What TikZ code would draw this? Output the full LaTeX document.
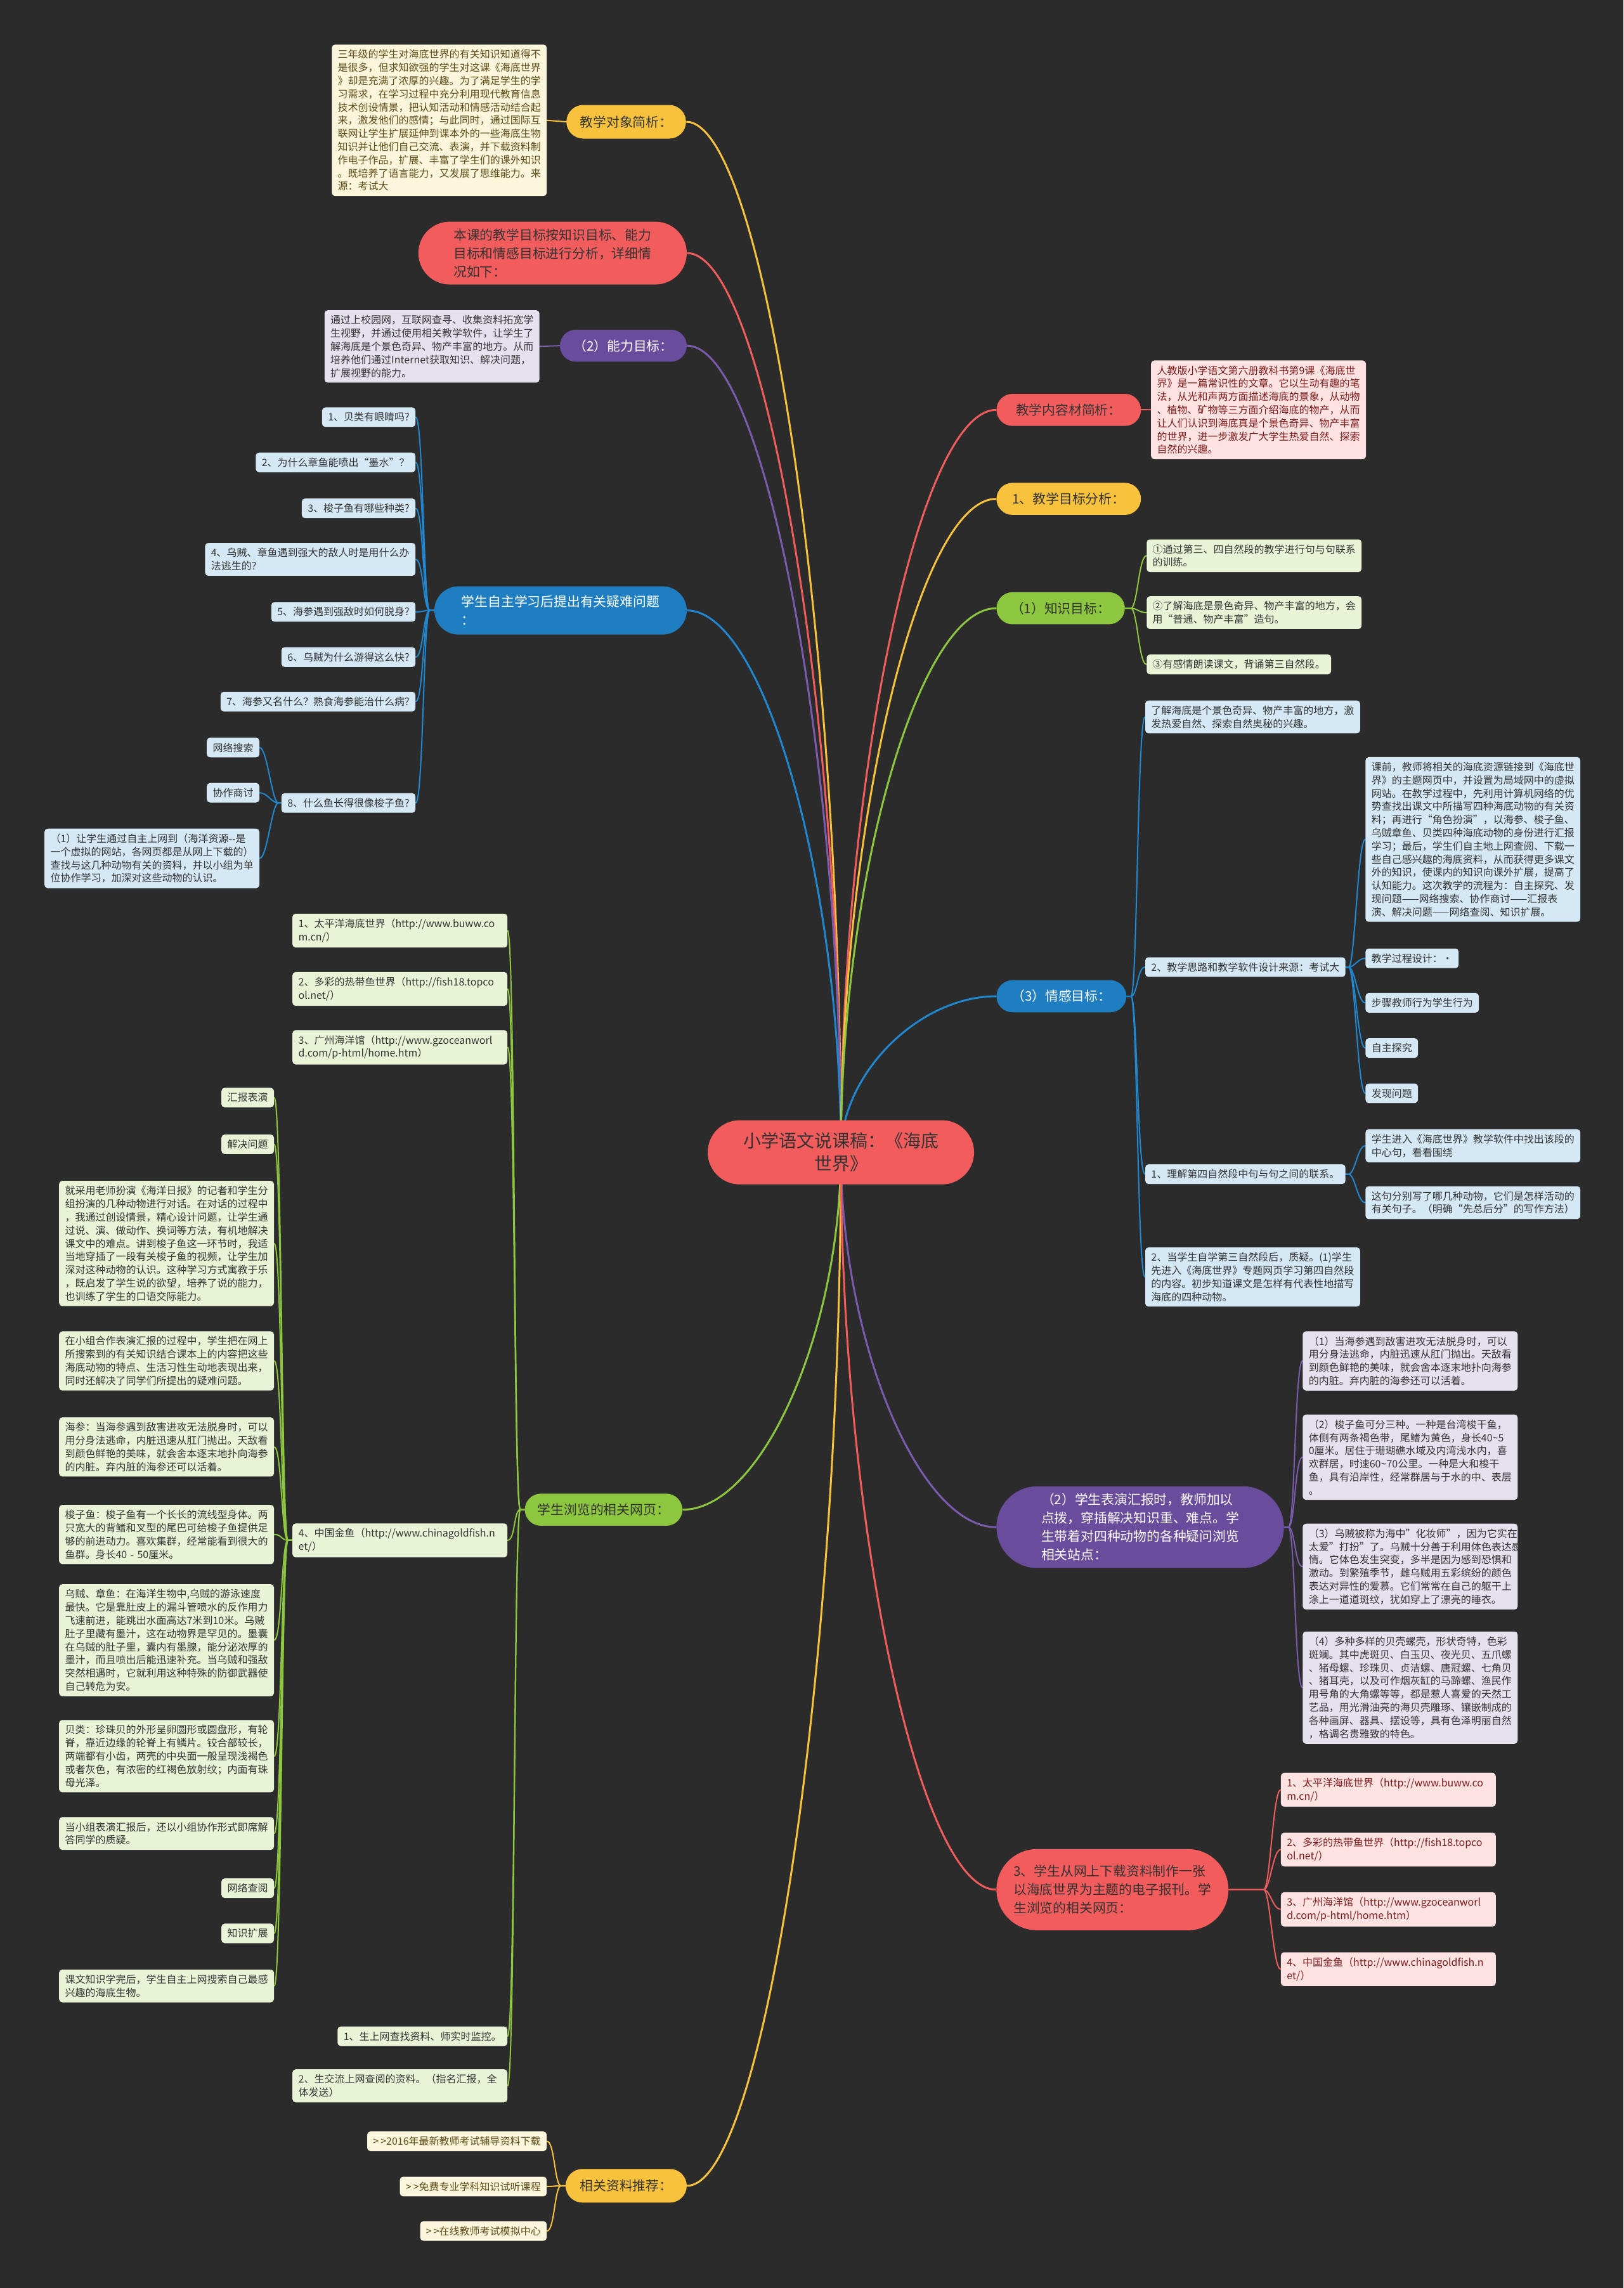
\documentclass[tikz,border=0pt]{standalone}
\usepackage{fontspec}
\setmainfont{Noto Sans CJK SC}
\usetikzlibrary{backgrounds,calc}
\definecolor{bgc}{HTML}{2B2B2B}
\definecolor{redc}{HTML}{F25C5C}
\definecolor{yelc}{HTML}{F8C23D}
\definecolor{purc}{HTML}{6A4C9C}
\definecolor{purl}{HTML}{7B5BAE}
\definecolor{bluc}{HTML}{1F7EC2}
\definecolor{blul}{HTML}{2088D0}
\definecolor{grnc}{HTML}{8DC63F}
\definecolor{dtext}{HTML}{333333}
\definecolor{ybf}{HTML}{FCF6DC}
\definecolor{ybt}{HTML}{5C4A14}
\definecolor{rbf}{HTML}{FDE2E2}
\definecolor{rbt}{HTML}{7E1A1A}
\definecolor{pbf}{HTML}{E6E1EF}
\definecolor{bbf}{HTML}{D5E8F5}
\definecolor{gbf}{HTML}{E9F4D6}
\newcommand\myS{\fontsize{8}{10.4}\selectfont}
\newcommand\myP{\fontsize{10.4}{14.5}\selectfont}
\newcommand\myR{\fontsize{14}{18}\selectfont}
\begin{document}
\begin{tikzpicture}[x=1.15pt,y=-1.15pt,
  box/.style={rectangle, rounded corners=2.5pt, inner xsep=4.7pt, inner ysep=4pt, font=\myS, align=left},
  wbox/.style={box, text width=160pt},
  yb/.style={fill=ybf, text=ybt},
  rb/.style={fill=rbf, text=rbt},
  pb/.style={fill=pbf, text=dtext},
  bb/.style={fill=bbf, text=dtext},
  gb/.style={fill=gbf, text=dtext},
  pill/.style={rectangle, inner sep=0pt, font=\myP, align=left},
  pw/.style n args={3}{minimum width=#1, minimum height=#2, rounded corners=#3},
  ml/.style={line width=1.5pt},
  sl/.style={line width=1pt, line cap=round},
  cl/.style={out=180,in=0,out distance=5pt,in distance=6pt},
  cr/.style={out=0,in=180,out distance=5pt,in distance=6pt}]
\useasboundingbox (0,0) rectangle (1113,1568.6);

% root
\node[pill,pw={210pt}{50.6pt}{25.3pt},fill=redc,text=dtext,font=\myR,align=center] (root) at (576.5,790) {小学语文说课稿：《海底\\世界》};

% ---------- left: teaching object
\node[pill,pw={94.3pt}{26.5pt}{13.25pt},fill=yelc,text=dtext,anchor=east] (L1) at (470.5,83.5) {教学对象简析：};
\node[wbox,yb,anchor=east] (L1a) at (375,82.5) {三年级的学生对海底世界的有关知识知道得不\\是很多，但求知欲强的学生对这课《海底世界\\》却是充满了浓厚的兴趣。为了满足学生的学\\习需求，在学习过程中充分利用现代教育信息\\技术创设情景，把认知活动和情感活动结合起\\来，激发他们的感情；与此同时，通过国际互\\联网让学生扩展延伸到课本外的一些海底生物\\知识并让他们自己交流、表演，并下载资料制\\作电子作品，扩展、丰富了学生们的课外知识\\。既培养了语言能力，又发展了思维能力。来\\源：考试大};

\node[pill,pw={211.6pt}{49.5pt}{24.75pt},fill=redc,text=dtext,anchor=east] (L2) at (471,173.5) {本课的教学目标按知识目标、能力\\目标和情感目标进行分析，详细情\\况如下：};

\node[pill,pw={100pt}{25.3pt}{12.65pt},fill=purc,text=white,anchor=east] (L3) at (471,237) {（2）能力目标：};
\node[wbox,pb,anchor=east] (L3a) at (370,237.5) {通过上校园网，互联网查寻、收集资料拓宽学\\生视野，并通过使用相关教学软件，让学生了\\解海底是个景色奇异、物产丰富的地方。从而\\培养他们通过Internet获取知识、解决问题，\\扩展视野的能力。};

% ---------- left: questions
\node[pill,pw={199pt}{38pt}{19pt},fill=bluc,text=white,anchor=east] (L4) at (471,418.5) {学生自主学习后提出有关疑难问题\\：};
\node[box,bb,anchor=east] (Q1) at (285,286) {1、贝类有眼睛吗?};
\node[box,bb,anchor=east] (Q2) at (285,317) {2、为什么章鱼能喷出“墨水”？};
\node[box,bb,anchor=east] (Q3) at (285,348.5) {3、梭子鱼有哪些种类?};
\node[box,bb,anchor=east] (Q4) at (285,383.5) {4、乌贼、章鱼遇到强大的敌人时是用什么办\\法逃生的?};
\node[box,bb,anchor=east] (Q5) at (285,419.5) {5、海参遇到强敌时如何脱身?};
\node[box,bb,anchor=east] (Q6) at (285,450.5) {6、乌贼为什么游得这么快?};
\node[box,bb,anchor=east] (Q7) at (285,481) {7、海参又名什么？熟食海参能治什么病?};
\node[box,bb,anchor=east] (Q8) at (285,550.5) {8、什么鱼长得很像梭子鱼?};
\node[box,bb,anchor=east] (N1) at (178,512.5) {网络搜索};
\node[box,bb,anchor=east] (N2) at (178,543.5) {协作商讨};
\node[wbox,bb,anchor=east] (N3) at (178,588.5) {（1）让学生通过自主上网到（海洋资源-{}-是\\一个虚拟的网站，各网页都是从网上下载的）\\查找与这几种动物有关的资料，并以小组为单\\位协作学习，加深对这些动物的认识。};

% ---------- left: web pages
\node[pill,pw={124.2pt}{25.3pt}{12.65pt},fill=grnc,text=dtext,anchor=east] (L5) at (468,1035) {学生浏览的相关网页：};
\node[wbox,gb,anchor=east] (G1) at (348,638) {1、太平洋海底世界（http://www.buww.co\\m.cn/）};
\node[wbox,gb,anchor=east] (G2) at (348,678) {2、多彩的热带鱼世界（http://fish18.topco\\ol.net/）};
\node[wbox,gb,anchor=east] (G3) at (348,718) {3、广州海洋馆（http://www.gzoceanworl\\d.com/p-html/home.htm）};
\node[wbox,gb,anchor=east] (G4) at (348,1056) {4、中国金鱼（http://www.chinagoldfish.n\\et/）};
\node[box,gb,anchor=east] (G5) at (348,1396) {1、生上网查找资料、师实时监控。};
\node[wbox,gb,anchor=east] (G6) at (348,1430) {2、生交流上网查阅的资料。（指名汇报，全\\体发送）};

\node[box,gb,anchor=east] (H1) at (188,752.5) {汇报表演};
\node[box,gb,anchor=east] (H2) at (188,784.5) {解决问题};
\node[wbox,gb,anchor=east] (H3) at (188,852.5) {就采用老师扮演《海洋日报》的记者和学生分\\组扮演的几种动物进行对话。在对话的过程中\\，我通过创设情景，精心设计问题，让学生通\\过说、演、做动作、换词等方法，有机地解决\\课文中的难点。讲到梭子鱼这一环节时，我适\\当地穿插了一段有关梭子鱼的视频，让学生加\\深对这种动物的认识。这种学习方式寓教于乐\\，既启发了学生说的欲望，培养了说的能力，\\也训练了学生的口语交际能力。};
\node[wbox,gb,anchor=east] (H4) at (188,933) {在小组合作表演汇报的过程中，学生把在网上\\所搜索到的有关知识结合课本上的内容把这些\\海底动物的特点、生活习性生动地表现出来，\\同时还解决了同学们所提出的疑难问题。};
\node[wbox,gb,anchor=east] (H5) at (188,992) {海参：当海参遇到敌害进攻无法脱身时，可以\\用分身法逃命，内脏迅速从肛门抛出。天敌看\\到颜色鲜艳的美味，就会舍本逐末地扑向海参\\的内脏。弃内脏的海参还可以活着。};
\node[wbox,gb,anchor=east] (H6) at (188,1052) {梭子鱼：梭子鱼有一个长长的流线型身体。两\\只宽大的背鳍和叉型的尾巴可给梭子鱼提供足\\够的前进动力。喜欢集群，经常能看到很大的\\鱼群。身长40 - 50厘米。};
\node[wbox,gb,anchor=east] (H7) at (188,1124.5) {乌贼、章鱼：在海洋生物中,乌贼的游泳速度\\最快。它是靠肚皮上的漏斗管喷水的反作用力\\飞速前进，能跳出水面高达7米到10米。乌贼\\肚子里藏有墨汁，这在动物界是罕见的。墨囊\\在乌贼的肚子里，囊内有墨腺，能分泌浓厚的\\墨汁，而且喷出后能迅速补充。当乌贼和强敌\\突然相遇时，它就利用这种特殊的防御武器使\\自己转危为安。};
\node[wbox,gb,anchor=east] (H8) at (188,1204) {贝类：珍珠贝的外形呈卵圆形或圆盘形，有轮\\脊，靠近边缘的轮脊上有鳞片。铰合部较长，\\两端都有小齿，两壳的中央面一般呈现浅褐色\\或者灰色，有浓密的红褐色放射纹；内面有珠\\母光泽。};
\node[wbox,gb,anchor=east] (H9) at (188,1257) {当小组表演汇报后，还以小组协作形式即席解\\答同学的质疑。};
\node[box,gb,anchor=east] (H10) at (188,1294.5) {网络查阅};
\node[box,gb,anchor=east] (H11) at (188,1325.5) {知识扩展};
\node[wbox,gb,anchor=east] (H12) at (188,1361.5) {课文知识学完后，学生自主上网搜索自己最感\\兴趣的海底生物。};

% ---------- left: recommendations
\node[pill,pw={95.5pt}{26.5pt}{13.25pt},fill=yelc,text=dtext,anchor=east] (L6) at (471,1498.5) {相关资料推荐：};
\node[box,yb,anchor=east] (Z1) at (375,1468) {>\kern1.5pt>2016年最新教师考试辅导资料下载};
\node[box,yb,anchor=east] (Z2) at (375,1499) {>\kern1.5pt>免费专业学科知识试听课程};
\node[box,yb,anchor=east] (Z3) at (375,1529.5) {>\kern1.5pt>在线教师考试模拟中心};

% ---------- right side
\node[pill,pw={113.9pt}{25.3pt}{12.65pt},fill=redc,text=dtext,anchor=west] (R1) at (683,281) {教学内容材简析：};
\node[wbox,rb,anchor=west] (R1a) at (789,281) {人教版小学语文第六册教科书第9课《海底世\\界》是一篇常识性的文章。它以生动有趣的笔\\法，从光和声两方面描述海底的景象，从动物\\、植物、矿物等三方面介绍海底的物产，从而\\让人们认识到海底真是个景色奇异、物产丰富\\的世界，进一步激发广大学生热爱自然、探索\\自然的兴趣。};
\node[pill,pw={113.9pt}{25.3pt}{12.65pt},fill=yelc,text=dtext,anchor=west] (R2) at (683,342) {1、教学目标分析：};
\node[pill,pw={101.2pt}{25.3pt}{12.65pt},fill=grnc,text=dtext,anchor=west] (R3) at (683,417) {（1）知识目标：};
\node[wbox,gb,anchor=west] (K1) at (786,381) {①通过第三、四自然段的教学进行句与句联系\\的训练。};
\node[wbox,gb,anchor=west] (K2) at (786,420) {②了解海底是景色奇异、物产丰富的地方，会\\用“普通、物产丰富”造句。};
\node[box,gb,anchor=west] (K3) at (786,455.5) {③有感情朗读课文，背诵第三自然段。};

\node[pill,pw={102.4pt}{25.3pt}{12.65pt},fill=bluc,text=white,anchor=west] (R4) at (683,683) {（3）情感目标：};
\node[wbox,bb,anchor=west] (E1) at (785,491.5) {了解海底是个景色奇异、物产丰富的地方，激\\发热爱自然、探索自然奥秘的兴趣。};
\node[box,bb,anchor=west] (E2) at (785,663) {2、教学思路和教学软件设计来源：考试大};
\node[box,bb,anchor=west] (E3) at (785,805) {1、理解第四自然段中句与句之间的联系。};
\node[wbox,bb,anchor=west] (E4) at (785,875.5) {2、当学生自学第三自然段后，质疑。(1)学生\\先进入《海底世界》专题网页学习第四自然段\\的内容。初步知道课文是怎样有代表性地描写\\海底的四种动物。};
\node[wbox,bb,anchor=west] (F1) at (936,575.5) {课前，教师将相关的海底资源链接到《海底世\\界》的主题网页中，并设置为局域网中的虚拟\\网站。在教学过程中，先利用计算机网络的优\\势查找出课文中所描写四种海底动物的有关资\\料；再进行“角色扮演”，以海参、梭子鱼、\\乌贼章鱼、贝类四种海底动物的身份进行汇报\\学习；最后，学生们自主地上网查阅、下载一\\些自己感兴趣的海底资料，从而获得更多课文\\外的知识，使课内的知识向课外扩展，提高了\\认知能力。这次教学的流程为：自主探究、发\\现问题——网络搜索、协作商讨——汇报表\\演、解决问题——网络查阅、知识扩展。};
\node[box,bb,anchor=west] (F2) at (936,657) {教学过程设计：•};
\node[box,bb,anchor=west] (F3) at (936,687.5) {步骤教师行为学生行为};
\node[box,bb,anchor=west] (F4) at (936,718.5) {自主探究};
\node[box,bb,anchor=west] (F5) at (936,749.5) {发现问题};
\node[wbox,bb,anchor=west] (F6) at (936,785.5) {学生进入《海底世界》教学软件中找出该段的\\中心句，看看围绕};
\node[wbox,bb,anchor=west] (F7) at (936,824.5) {这句分别写了哪几种动物，它们是怎样活动的\\有关句子。（明确“先总后分”的写作方法）};

\node[pill,pw={226.6pt}{64.4pt}{32.2pt},fill=purc,text=white,anchor=west] (R5) at (683,1047) {（2）学生表演汇报时，教师加以\\点拨，穿插解决知识重、难点。学\\生带着对四种动物的各种疑问浏览\\相关站点：};
\node[wbox,pb,anchor=west] (S1) at (893,933) {（1）当海参遇到敌害进攻无法脱身时，可以\\用分身法逃命，内脏迅速从肛门抛出。天敌看\\到颜色鲜艳的美味，就会舍本逐末地扑向海参\\的内脏。弃内脏的海参还可以活着。};
\node[wbox,pb,anchor=west] (S2) at (893,999) {（2）梭子鱼可分三种。一种是台湾梭干鱼，\\体侧有两条褐色带，尾鳍为黄色，身长40\textasciitilde5\\0厘米。居住于珊瑚礁水域及内湾浅水内，喜\\欢群居，时速60\textasciitilde70公里。一种是大和梭干\\鱼，具有沿岸性，经常群居与于水的中、表层\\。};
\node[wbox,pb,anchor=west] (S3) at (893,1074) {（3）乌贼被称为海中"化妆师"，因为它实在\\太爱"打扮"了。乌贼十分善于利用体色表达感\\情。它体色发生突变，多半是因为感到恐惧和\\激动。到繁殖季节，雌乌贼用五彩缤纷的颜色\\表达对异性的爱慕。它们常常在自己的躯干上\\涂上一道道斑纹，犹如穿上了漂亮的睡衣。};
\node[wbox,pb,anchor=west] (S4) at (893,1157) {（4）多种多样的贝壳螺壳，形状奇特，色彩\\斑斓。其中虎斑贝、白玉贝、夜光贝、五爪螺\\、猪母螺、珍珠贝、贞洁螺、唐冠螺、七角贝\\、猪耳壳，以及可作烟灰缸的马蹄螺、渔民作\\用号角的大角螺等等，都是惹人喜爱的天然工\\艺品，用光滑油亮的海贝壳雕琢、镶嵌制成的\\各种画屏、器具、摆设等，具有色泽明丽自然\\，格调名贵雅致的特色。};

\node[pill,pw={182.9pt}{64pt}{32pt},fill=redc,text=dtext,anchor=west] (R6) at (683,1295.5) {3、学生从网上下载资料制作一张\\以海底世界为主题的电子报刊。学\\生浏览的相关网页：};
\node[wbox,rb,anchor=west] (T1) at (878,1227) {1、太平洋海底世界（http://www.buww.co\\m.cn/）};
\node[wbox,rb,anchor=west] (T2) at (878,1268) {2、多彩的热带鱼世界（http://fish18.topco\\ol.net/）};
\node[wbox,rb,anchor=west] (T3) at (878,1309) {3、广州海洋馆（http://www.gzoceanworl\\d.com/p-html/home.htm）};
\node[wbox,rb,anchor=west] (T4) at (878,1350) {4、中国金鱼（http://www.chinagoldfish.n\\et/）};

\begin{pgfonlayer}{background}
\fill[bgc] (0,0) rectangle (1113,1568.6);
% main branches
\foreach \n/\c in {L1/yelc,L2/redc,L3/purl,L4/blul,L5/grnc,L6/yelc}
  \draw[ml,\c] (root.center) .. controls ($(root.center)!0.5!(root.center|-\n.east)$) and ($(\n.east)!0.5!(root.center|-\n.east)$) .. (\n.east);
\foreach \n/\c in {R1/redc,R2/yelc,R3/grnc,R4/blul,R5/purl,R6/redc}
  \draw[ml,\c] (root.center) .. controls ($(root.center)!0.5!(root.center|-\n.west)$) and ($(\n.west)!0.5!(root.center|-\n.west)$) .. (\n.west);
% sub branches left
\draw[sl,yelc] (L1.west) -- (L1a.east);
\draw[sl,purl] (L3.west) -- (L3a.east);
\foreach \c in {Q1,Q2,Q3,Q4,Q5,Q6,Q7,Q8}
  \draw[sl,blul] (L4.west) -- ++(-3,0) to[cl] (\c.east);
\foreach \c in {N1,N2,N3}
  \draw[sl,blul] (Q8.west) -- ++(-2,0) to[cl] (\c.east);
\foreach \c in {G1,G2,G3,G4,G5,G6}
  \draw[sl,grnc] (L5.west) -- ++(-3,0) to[cl] (\c.east);
\foreach \c in {H1,H2,H3,H4,H5,H6,H7,H8,H9,H10,H11,H12}
  \draw[sl,grnc] (G4.west) -- ++(-3,0) to[cl] (\c.east);
\foreach \c in {Z1,Z2,Z3}
  \draw[sl,yelc] (L6.west) -- ++(-3,0) to[cl] (\c.east);
% sub branches right
\draw[sl,redc] (R1.east) -- (R1a.west);
\foreach \c in {K1,K2,K3}
  \draw[sl,grnc] (R3.east) -- ++(4,0) to[cr] (\c.west);
\foreach \c in {E1,E2,E3,E4}
  \draw[sl,blul] (R4.east) -- ++(3,0) to[cr] (\c.west);
\foreach \c in {F1,F2,F3,F4,F5}
  \draw[sl,blul] (E2.east) -- ++(2,0) to[cr] (\c.west);
\foreach \c in {F6,F7}
  \draw[sl,blul] (E3.east) -- ++(2,0) to[cr] (\c.west);
\foreach \c in {S1,S2,S3,S4}
  \draw[sl,purl] (R5.east) -- ++(3,0) to[cr] (\c.west);
\foreach \c in {T1,T2,T3,T4}
  \draw[sl,redc] (R6.east) -- ++(24,0) to[cr] (\c.west);
\end{pgfonlayer}
\end{tikzpicture}
\end{document}
